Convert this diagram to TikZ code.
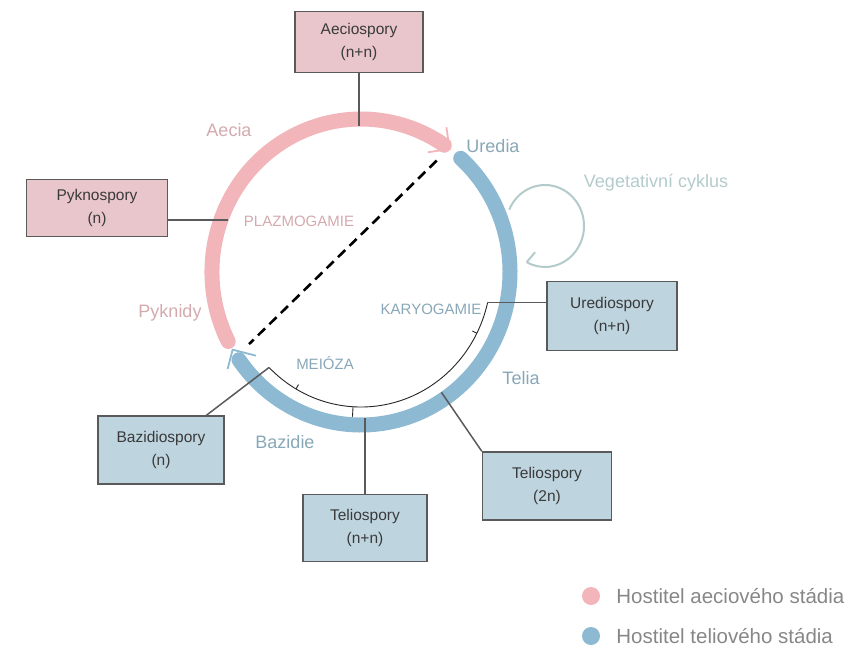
\documentclass[tikz,border=0pt]{standalone}
\usepackage{fontspec}
\setmainfont{Liberation Sans}
\usepackage{tikz}
\usetikzlibrary{arrows.meta}
\usetikzlibrary{positioning}
\definecolor{aeciopink}{HTML}{F2B5B9}
\definecolor{teliblue}{HTML}{8DB9D2}
\definecolor{pinkbox}{HTML}{E9C6CB}
\definecolor{bluebox}{HTML}{BED4DF}
\definecolor{boxline}{HTML}{5A5A5A}
\definecolor{boxtext}{HTML}{3A3A3A}
\definecolor{pinktext}{HTML}{D4AAAE}
\definecolor{bluetext}{HTML}{88A7B7}
\definecolor{vegcolor}{HTML}{B3CBCA}
\definecolor{legendtext}{HTML}{878787}

\begin{document}
\begin{tikzpicture}[x=1pt,y=1pt,yscale=-1,
    spore node/.style={draw=boxline,line width=1.4pt,align=center,text=boxtext,font=\fontsize{15.5}{23}\selectfont,inner sep=0pt},
    aecio box/.style={spore node,fill=pinkbox},
    telio box/.style={spore node,fill=bluebox},
    stage label/.style={font=\fontsize{18}{20}\selectfont},
    phase label/.style={font=\fontsize{15}{17}\selectfont},
    legend dot/.style={circle,inner sep=0pt,minimum size=18pt},
    legend label/.style={inner sep=0pt,text=legendtext,font=\fontsize{20.5}{22}\selectfont},
    ring/.style={line width=15pt,line cap=round},
    tip line/.style={line width=1.8pt},
    link/.style={-,draw=boxline,line width=1.5pt},
    bracket/.style={draw=black!85,line width=0.9pt},
    veg cycle/.style={draw=vegcolor,line width=2pt}]
  \useasboundingbox (0,0) rectangle (859,654);
  \coordinate (c) at (361,272);
  \coordinate (v) at (545,226);

  % points on the ring
  \path (c) ++(270:142 and 146) coordinate (aA);
  \path (c) ++(200.9:142 and 146) coordinate (pA);
  \path (c) ++(90:142 and 146) coordinate (tA);
  \path (c) ++(55.5:142 and 146) coordinate (t2A);
  \path (c) ++(306.5:149 and 153) coordinate (aTip);
  \path (c) ++(149.5:149 and 153) coordinate (bTip);
  \path (c) ++(305:132 and 136) coordinate (plzA);
  \path (c) ++(148:132 and 136) coordinate (plzB);
  \path (c) ++(135:130 and 135) coordinate (mL);

  \draw[ring,aeciopink] (c) ++(153:149 and 153) arc[start angle=153,end angle=304,x radius=149,y radius=153];
  \draw[ring,teliblue] (c) ++(312:149 and 153) arc[start angle=312,end angle=505,x radius=149,y radius=153];
  \draw[tip line,aeciopink] (aTip) ++(261.5:22) -- (aTip) -- ++(171.5:22);
  \draw[tip line,teliblue] (bTip) ++(104.5:20) -- (bTip) -- ++(14.5:24);

  \draw[line width=2.6pt,dash pattern=on 10pt off 6pt] (plzA) -- (plzB);

  \draw[veg cycle] (v) ++(203.5:39 and 41) arc[start angle=203.5,end angle=478,x radius=39,y radius=41] coordinate (vEnd);
  \draw[veg cycle] (vEnd) -- ++(-50:13);

  \node[aecio box,minimum width=128pt,minimum height=61pt] (aecio) at (359,42) {Aeciospory\\(n+n)};
  \node[aecio box,minimum width=141pt,minimum height=57pt] (pykno) at (97,208) {Pyknospory\\(n)};
  \node[telio box,minimum width=130pt,minimum height=69pt] (ured) at (612,316) {Urediospory\\(n+n)};
  \node[telio box,minimum width=126pt,minimum height=68pt] (bazid) at (161,450) {Bazidiospory\\(n)};
  \node[telio box,minimum width=124pt,minimum height=67pt] (telio1) at (365,528) {Teliospory\\(n+n)};
  \node[telio box,minimum width=129pt,minimum height=68pt] (telio2) at (547,486) {Teliospory\\(2n)};

  % karyogamie -- meioza
  \draw[bracket] (mL) arc[start angle=135,end angle=13,x radius=130,y radius=135] coordinate (kR);
  \draw[bracket] (c) ++(93.5:130 and 135) -- ++(93.5:10);
  \draw[bracket] (c) ++(120:130 and 135) -- ++(300:5);
  \draw[bracket] (c) ++(27:130 and 135) -- ++(207:5);

  \path[link] (aecio.south) edge (aecio.south |- aA);
  \path[link] (pA) edge (pA -| pykno.east);
  \path[link] (kR) edge (kR -| ured.west);
  \path[link] (bazid) edge (mL);
  \path[link] (telio1.north) edge (telio1.north |- tA);
  \path[link] (t2A) edge (telio2.north west);

  \node[stage label,text=pinktext] (aecia) at (229,130) {Aecia};
  \node[stage label,text=bluetext] (uredia) at (493,146) {Uredia};
  \node[stage label,text=vegcolor] (vegcyk) at (656,183) {Vegetativní cyklus};
  \node[phase label,text=pinktext] (plazmo) at (299,221) {PLAZMOGAMIE};
  \node[phase label,text=bluetext] (karyo) at (431,309) {KARYOGAMIE};
  \node[phase label,text=bluetext] (meioza) at (325,363) {MEIÓZA};
  \node[stage label,text=pinktext] (pyknidy) at (170,313) {Pyknidy};
  \node[stage label,text=bluetext] (telia) at (521,378) {Telia};
  \node[stage label,text=bluetext] (bazidie) at (285,442) {Bazidie};

  \node[legend dot,fill=aeciopink] (keyA) at (591,596) {};
  \node[legend dot,fill=teliblue] (keyT) at (591,636) {};
  \node[legend label,right=16pt of keyA] (keyAtext) {Hostitel aeciového stádia};
  \node[legend label,right=16pt of keyT] (keyTtext) {Hostitel teliového stádia};
\end{tikzpicture}
\end{document}
